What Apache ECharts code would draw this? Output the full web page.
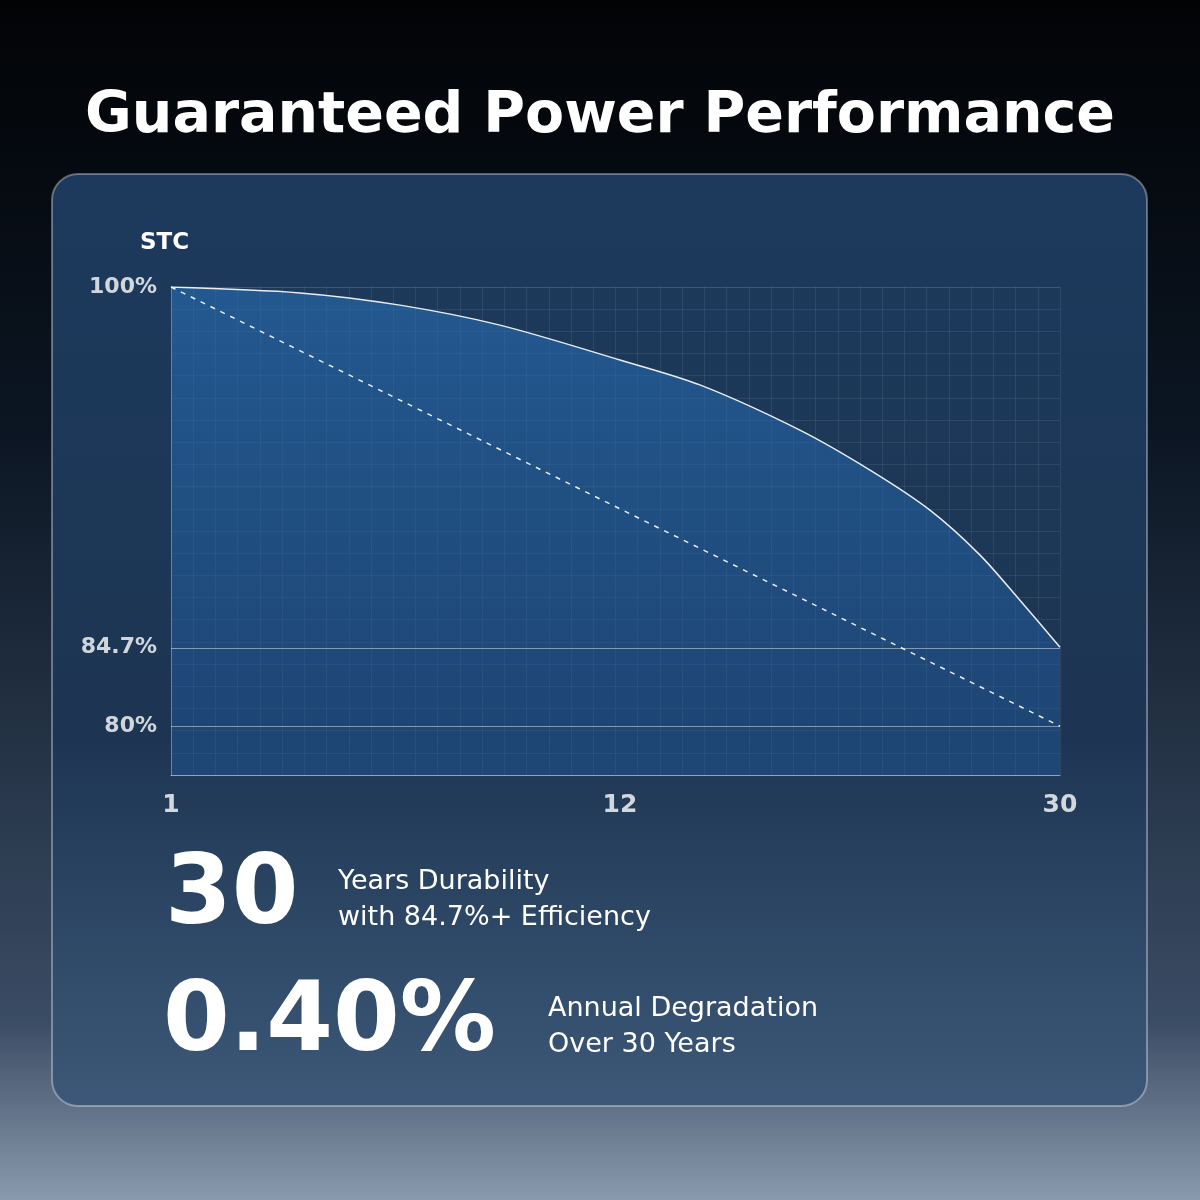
<!DOCTYPE html>
<html><head><meta charset="utf-8">
<script src="https://cdn.jsdelivr.net/npm/echarts@6/dist/echarts.min.js"></script>
<style>html,body{margin:0;padding:0;background:#05080d}#c{width:1200px;height:1200px}</style>
</head><body><div id="c"></div>
<script>
// Data
var xTickYears = [1, 12, 30];
var xTickPos = [0, 0.505, 1];
var yTickPct = [80, 84.7, 100];
var yTickPos = [0.1, 0.262, 1];
var curveYears = [1, 4.16, 6.61, 9.06, 12, 15.27, 19.36, 22.23, 24.68, 26.73, 28.36, 30];
var curvePct = [100, 99.75, 99.23, 98.38, 96.9, 95.84, 93.92, 92.22, 90.52, 88.61, 86.69, 84.7];
var linearYears = [1, 30];
var linearPct = [100, 80];

function interp(v, xs, ys){
  for (var i=0;i<xs.length-1;i++){
    if (v>=xs[i] && v<=xs[i+1]) return ys[i]+(v-xs[i])/(xs[i+1]-xs[i])*(ys[i+1]-ys[i]);
  }
  return v<xs[0]?ys[0]:ys[ys.length-1];
}
function toPt(yr, p){ return [interp(yr,xTickYears,xTickPos), interp(p,yTickPct,yTickPos)]; }
var curveData = curveYears.map(function(y,i){return toPt(y,curvePct[i]);});
var linData = linearYears.map(function(y,i){return toPt(y,linearPct[i]);});

var chart = echarts.init(document.getElementById('c'));
var white = '#ffffff';
var F = '"DejaVu Sans"';
chart.setOption({
  backgroundColor: {type:'linear',x:0,y:0,x2:0,y2:1,colorStops:[{offset:0,color:'#020305'},{offset:0.35,color:'#0b1522'},{offset:0.85,color:'#3a4c64'},{offset:1,color:'#8a99ad'}]},
  title: {text:'Guaranteed Power Performance', left:'center', top:84,
    textStyle:{color:white, fontSize:57, fontWeight:'bold', fontFamily:F}},
  graphic: [
    {type:'rect', z:-10, shape:{x:52,y:174,width:1095,height:932,r:26},
     style:{fill:{type:'linear',x:0,y:0,x2:0,y2:1,colorStops:[{offset:0,color:'#1c3a5d'},{offset:0.6,color:'#1d3552'},{offset:1,color:'#3d5878'}]}, stroke:'rgba(255,255,255,0.35)', lineWidth:2}},
    {type:'text', left:140, top:232, style:{text:'STC', fill:white, font:'bold 23px "DejaVu Sans"'}},
    {type:'text', left:165, top:850, style:{text:'30', fill:white, font:'bold 96px "DejaVu Sans"'}},
    {type:'text', left:338, top:864, style:{text:'Years Durability\nwith 84.7%+ Efficiency', fill:white, font:'500 27px "DejaVu Sans"', lineHeight:36}},
    {type:'text', left:163, top:977, style:{text:'0.40%', fill:white, font:'bold 96px "DejaVu Sans"'}},
    {type:'text', left:548, top:991, style:{text:'Annual Degradation\nOver 30 Years', fill:white, font:'500 27px "DejaVu Sans"', lineHeight:36}}
  ],
  grid:{left:171, right:140, top:287, bottom:425},
  xAxis:[
    {type:'value', min:0, max:1, axisLine:{show:true,lineStyle:{color:'rgba(255,255,255,0.5)'}},
     axisTick:{show:false}, splitLine:{show:false}, axisLabel:{show:false}},
    {type:'value', min:0, max:1, interval:0.025, position:'bottom', axisLine:{show:false}, axisTick:{show:false}, axisLabel:{show:false},
     splitLine:{show:true,lineStyle:{color:'rgba(255,255,255,0.08)'}}}
  ],
  yAxis:[
    {type:'value', min:0, max:1, axisLine:{show:true,lineStyle:{color:'rgba(255,255,255,0.5)'}}, axisTick:{show:false},
     splitLine:{show:false}, axisLabel:{show:false}},
    {type:'value', min:0, max:1, interval:1/22, axisLine:{show:false}, axisTick:{show:false}, axisLabel:{show:false},
     splitLine:{show:true,lineStyle:{color:'rgba(255,255,255,0.08)'}}}
  ],
  series:[
    {type:'line', xAxisIndex:0, yAxisIndex:0, data:curveData, smooth:0.3, symbol:'none',
     lineStyle:{color:'rgba(255,255,255,0.9)', width:1.5},
     areaStyle:{color:{type:'linear',x:0,y:0,x2:0,y2:1,colorStops:[{offset:0,color:'rgba(40,110,180,0.85)'},{offset:1,color:'rgba(30,90,160,0.6)'}]}},
     markLine:{symbol:'none', silent:true, label:{show:false},
       lineStyle:{color:'rgba(255,255,255,0.45)', type:'solid', width:1.2},
       data: yTickPos.slice(0,2).map(function(p){return {yAxis:p};})}
    },
    {type:'line', xAxisIndex:0, yAxisIndex:0, data:linData, symbol:'none',
     lineStyle:{color:'rgba(255,255,255,0.9)', width:1.5, type:[5,6]}},
    {type:'scatter', xAxisIndex:0, yAxisIndex:0, symbolSize:0, silent:true,
     data: yTickPos.map(function(p,i){return {value:[0,p], label:{show:true, position:'left', distance:14, formatter:yTickPct[i]+'%', color:white, fontSize:22, fontWeight:'bold', fontFamily:F}};})},
    {type:'scatter', xAxisIndex:0, yAxisIndex:0, symbolSize:0, silent:true,
     data: xTickPos.map(function(p,i){return {value:[p,0], label:{show:true, position:'bottom', distance:18, formatter:String(xTickYears[i]), color:white, fontSize:25, fontWeight:'bold', fontFamily:F}};})}
  ]
});
</script></body></html>
